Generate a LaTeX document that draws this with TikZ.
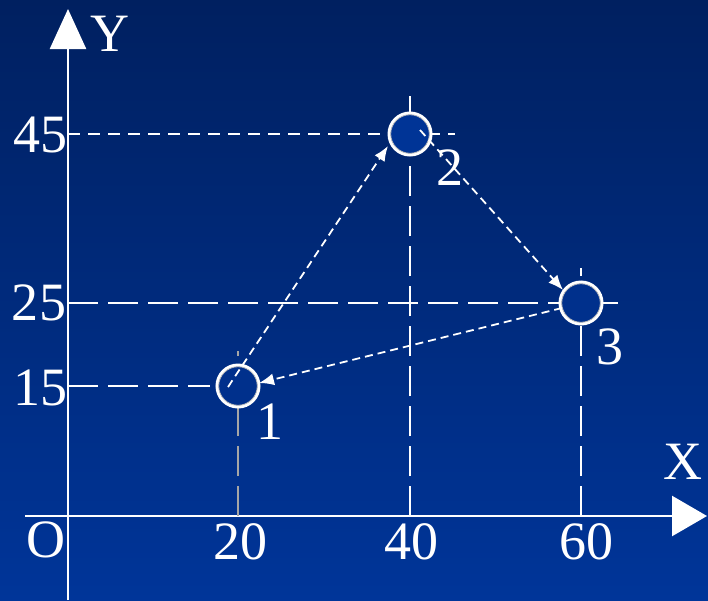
\documentclass[tikz,border=0pt]{standalone}
\usepackage{fontspec}
\setmainfont{Liberation Serif}
\usetikzlibrary{arrows.meta}
\definecolor{bgtop}{RGB}{0,32,96}
\definecolor{bgbot}{RGB}{0,53,153}
\definecolor{bgmid}{RGB}{0,48,140}
\definecolor{fill2}{RGB}{0,52,150}
\tikzset{
  lbl/.style={text=white, inner sep=0pt, font=\fontsize{54}{54}\selectfont},
  axis/.style={white, line width=2.5pt},
  thindash/.style={white, line width=1.5pt, dash pattern=on 12pt off 8pt},
  longdash/.style={white, line width=2.5pt, dash pattern=on 30pt off 10pt},
  greydash/.style={gray!70, line width=1.2pt, dash pattern=on 30pt off 10pt},
  pt/.style={circle, draw=white, line width=3pt, minimum size=42pt, inner sep=0pt},
  arr/.style={white, line width=1.8pt, dash pattern=on 8pt off 5pt, -{Latex[length=15pt,width=12pt]}},
}
\begin{document}
\begin{tikzpicture}[x=1pt,y=-1pt]
\shade[top color=bgtop, bottom color=bgbot] (0,0) rectangle (708,600);
\useasboundingbox (0,0) rectangle (708,600);
% axes
\coordinate (ybot) at (68,600);
\coordinate (ytop) at (68,9);
\coordinate (xleft) at (25,516);
\coordinate (xright) at (707,516);
\draw[axis, -{Triangle[length=40pt,width=36pt]}] (ybot) -- (ytop);
\draw[axis, -{Triangle[length=35pt,width=40pt]}] (xleft) -- (xright);
% guide lines
\coordinate (h45a) at (68,134); \coordinate (h45b) at (455,134);
\coordinate (v40a) at (410,96); \coordinate (v40b) at (410,516);
\coordinate (h25a) at (68,303); \coordinate (h25b) at (622,303);
\coordinate (v60a) at (581,268); \coordinate (v60b) at (581,516);
\coordinate (h15a) at (68,386); \coordinate (h15b) at (210,386);
\coordinate (v20a) at (238,351); \coordinate (v20b) at (238,516);
\draw[thindash] (h45a) -- (h45b);
\draw[longdash] (v40b) -- (v40a);
\draw[longdash] (h25a) -- (h25b);
\draw[longdash] (v60b) -- (v60a);
\draw[longdash] (h15a) -- (h15b);
\draw[greydash] (v20b) -- (v20a);
% points
\node[pt, fill=bgmid] (p1) at (238,386) {};
\node[pt, fill=fill2] (p2) at (410,134) {};
\node[pt, fill=bgmid] (p3) at (581,303) {};
\foreach \p in {p1,p2,p3}{\draw[gray!50, line width=0.8pt] (\p.center) circle (19.3pt);}
% arrows
\draw[arr] ([shift={(-10,1)}]p1.center) -- ([shift={(-22,12)}]p2.center);
\draw[arr] ([shift={(10,-4)}]p2.center) -- ([shift={(-18,-13)}]p3.center);
\draw[arr] ([shift={(-19,5)}]p3.center) -- ([shift={(21,-3)}]p1.center);
% labels
\node[lbl] (ly) at (110,34) {Y};
\node[lbl] (lx) at (683,462) {X};
\node[lbl] (lo) at (46,540) {O};
\node[lbl] (l20) at (240,542) {20};
\node[lbl] (l40) at (411,542) {40};
\node[lbl] (l60) at (586,542) {60};
\node[lbl] (l45) at (40,135) {45};
\node[lbl] (l25) at (39,303) {25};
\node[lbl] (l15) at (40,388) {15};
\node[lbl] (n1) at (270,422) {1};
\node[lbl] (n2) at (450,168) {2};
\node[lbl] (n3) at (610,347) {3};
\end{tikzpicture}
\end{document}
